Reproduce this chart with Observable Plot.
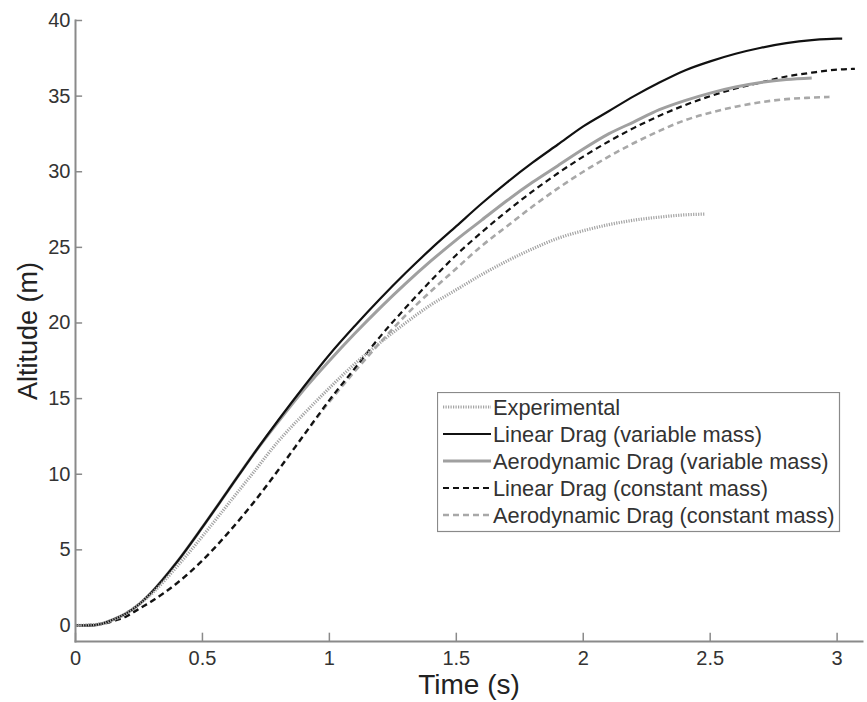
<!DOCTYPE html>
<html>
<head>
<meta charset="utf-8">
<script src="https://cdn.jsdelivr.net/npm/d3@7"></script>
<script src="https://cdn.jsdelivr.net/npm/@observablehq/plot@0.6"></script>
<style>
  html, body { margin: 0; padding: 0; background: #fff; }
  #wrap { position: relative; width: 867px; height: 702px; font-family: "Liberation Sans", Arial, sans-serif; }
  #legend { position: absolute; left: 437px; top: 392px; }
</style>
</head>
<body>
<div id="wrap"><div id="chart"></div><svg id="legend" width="404" height="141"></svg></div>
<script>
// ---- Data ----
const seriesNames = [
  "Experimental",
  "Linear Drag (variable mass)",
  "Aerodynamic Drag (variable mass)",
  "Linear Drag (constant mass)",
  "Aerodynamic Drag (constant mass)"
];

const tExp   = [0, 0.1, 0.15, 0.2, 0.25, 0.3, 0.4, 0.5, 0.6, 0.7, 0.8, 0.9, 1.0, 1.1, 1.2, 1.3, 1.4, 1.5, 1.6, 1.7, 1.8, 1.9, 2.0, 2.1, 2.2, 2.3, 2.4, 2.48];
const altExp = [0, 0.1, 0.4, 0.8, 1.4, 2.1, 3.9, 5.9, 8.0, 10.1, 12.2, 14.0, 15.7, 17.3, 18.7, 20.0, 21.2, 22.2, 23.2, 24.1, 24.9, 25.6, 26.1, 26.5, 26.8, 27.0, 27.15, 27.2];

const tLinVar   = [0, 0.05, 0.1, 0.15, 0.2, 0.25, 0.3, 0.4, 0.5, 0.6, 0.7, 0.8, 0.9, 1.0, 1.1, 1.2, 1.3, 1.4, 1.5, 1.6, 1.7, 1.8, 1.9, 2.0, 2.1, 2.2, 2.3, 2.4, 2.5, 2.6, 2.7, 2.8, 2.9, 3.0, 3.02];
const altLinVar = [0, 0, 0.1, 0.4, 0.8, 1.4, 2.2, 4.2, 6.5, 8.9, 11.3, 13.6, 15.8, 17.9, 19.8, 21.6, 23.3, 24.9, 26.4, 27.9, 29.3, 30.6, 31.8, 33.0, 34.0, 35.0, 35.9, 36.7, 37.3, 37.8, 38.2, 38.5, 38.7, 38.8, 38.8];

const tAeroVar   = [0, 0.05, 0.1, 0.15, 0.2, 0.25, 0.3, 0.4, 0.5, 0.6, 0.7, 0.8, 0.9, 1.0, 1.1, 1.2, 1.3, 1.4, 1.5, 1.6, 1.7, 1.8, 1.9, 2.0, 2.1, 2.2, 2.3, 2.4, 2.5, 2.6, 2.7, 2.8, 2.9];
const altAeroVar = [0, 0, 0.1, 0.4, 0.8, 1.4, 2.2, 4.2, 6.5, 8.9, 11.3, 13.5, 15.6, 17.5, 19.3, 21.0, 22.6, 24.1, 25.5, 26.8, 28.1, 29.3, 30.4, 31.5, 32.5, 33.3, 34.1, 34.7, 35.2, 35.6, 35.9, 36.1, 36.2];

const tLinConst   = [0, 0.1, 0.15, 0.2, 0.25, 0.3, 0.4, 0.5, 0.6, 0.7, 0.8, 0.9, 1.0, 1.1, 1.2, 1.3, 1.4, 1.5, 1.6, 1.7, 1.8, 1.9, 2.0, 2.1, 2.2, 2.3, 2.4, 2.5, 2.6, 2.7, 2.8, 2.9, 3.0, 3.07];
const altLinConst = [0, 0.1, 0.3, 0.6, 1.1, 1.6, 2.8, 4.3, 6.1, 8.1, 10.3, 12.6, 14.9, 17.0, 19.1, 21.0, 22.8, 24.5, 26.0, 27.4, 28.7, 29.9, 31.0, 32.0, 32.9, 33.7, 34.4, 35.0, 35.5, 35.9, 36.3, 36.55, 36.75, 36.8];

const tAeroConst   = [0, 0.1, 0.15, 0.2, 0.25, 0.3, 0.4, 0.5, 0.6, 0.7, 0.8, 0.9, 1.0, 1.1, 1.2, 1.3, 1.4, 1.5, 1.6, 1.7, 1.8, 1.9, 2.0, 2.1, 2.2, 2.3, 2.4, 2.5, 2.6, 2.7, 2.8, 2.9, 2.97];
const altAeroConst = [0, 0.1, 0.3, 0.6, 1.1, 1.6, 2.8, 4.3, 6.1, 8.1, 10.3, 12.6, 14.8, 16.8, 18.7, 20.5, 22.1, 23.6, 25.1, 26.4, 27.7, 28.9, 30.0, 31.0, 31.9, 32.7, 33.4, 33.9, 34.3, 34.6, 34.8, 34.9, 34.95];

const xTicks = [0, 0.5, 1, 1.5, 2, 2.5, 3];
const yTicks = [0, 5, 10, 15, 20, 25, 30, 35, 40];

// ---- Styles ----
const styles = [
  {stroke: "#a4a4a4", strokeWidth: 3.2, dash: "1.2,1.3"},
  {stroke: "#111111", strokeWidth: 2.2, dash: null},
  {stroke: "#a0a0a0", strokeWidth: 3,   dash: null},
  {stroke: "#111111", strokeWidth: 2.2, dash: "6,4"},
  {stroke: "#a8a8a8", strokeWidth: 2.6, dash: "6,4"}
];

const toRows = (ts, as, name) => ts.map((t, i) => ({t, alt: as[i], name}));
const series = [
  toRows(tExp, altExp, seriesNames[0]),
  toRows(tLinVar, altLinVar, seriesNames[1]),
  toRows(tAeroVar, altAeroVar, seriesNames[2]),
  toRows(tLinConst, altLinConst, seriesNames[3]),
  toRows(tAeroConst, altAeroConst, seriesNames[4])
];

const order = [4, 3, 2, 1, 0];
const lineMarks = order.map(i => Plot.line(series[i], {
  x: "t", y: "alt", curve: "monotone-x",
  stroke: styles[i].stroke, strokeWidth: styles[i].strokeWidth,
  strokeDasharray: styles[i].dash, strokeLinecap: "butt"
}));

const xMin = 0, yMin = -1.06;
const font = "Liberation Sans, Arial, sans-serif";
const chart = Plot.plot({
  width: 867, height: 702,
  marginLeft: 75, marginRight: 5, marginTop: 20, marginBottom: 61,
  style: {fontFamily: font, background: "white"},
  x: {domain: [xMin, 3.1]},
  y: {domain: [yMin, 40]},
  marks: [
    ...lineMarks,
    // inward tick marks
    Plot.ruleX(xTicks, {x: d => d, y1: yMin, y2: yMin + 0.55, stroke: "#8a8a8a", strokeWidth: 1.5}),
    Plot.ruleY(yTicks, {y: d => d, x1: xMin, x2: xMin + 0.028, stroke: "#8a8a8a", strokeWidth: 1.5}),
    Plot.frame({anchor: "bottom", stroke: "#8a8a8a", strokeWidth: 2}),
    Plot.frame({anchor: "left", stroke: "#8a8a8a", strokeWidth: 2}),
    Plot.axisX(xTicks, {tickSize: 0, tickPadding: 9, fontSize: 20, fill: "#333", label: null, tickFormat: d => String(d)}),
    Plot.axisY(yTicks, {tickSize: 0, tickPadding: 5, fontSize: 20, fill: "#333", label: null, tickFormat: d => String(d)}),
    Plot.text(["Time (s)"], {frameAnchor: "bottom", textAnchor: "middle", dy: 52, lineAnchor: "bottom", fontSize: 28, fill: "#222"}),
    Plot.text(["Altitude (m)"], {frameAnchor: "left", textAnchor: "middle", dx: -47, rotate: -90, fontSize: 27, fill: "#222"})
  ]
});
document.getElementById("chart").append(chart);

// ---- Legend (real text) ----
const lg = d3.select("#legend");
lg.append("rect").attr("x", 0.5).attr("y", 0.5).attr("width", 402).attr("height", 139)
  .attr("fill", "white").attr("stroke", "#8a8a8a").attr("stroke-width", 1.2);
seriesNames.forEach((name, i) => {
  const cy = 15 + i * 27;
  lg.append("line").attr("x1", 6).attr("x2", 54).attr("y1", cy).attr("y2", cy)
    .attr("stroke", styles[i].stroke).attr("stroke-width", styles[i].strokeWidth)
    .attr("stroke-dasharray", styles[i].dash);
  lg.append("text").attr("x", 56).attr("y", cy).attr("dy", "0.35em")
    .attr("font-family", font).attr("font-size", 21.8).attr("fill", "#333").text(name);
});
</script>
</body>
</html>
